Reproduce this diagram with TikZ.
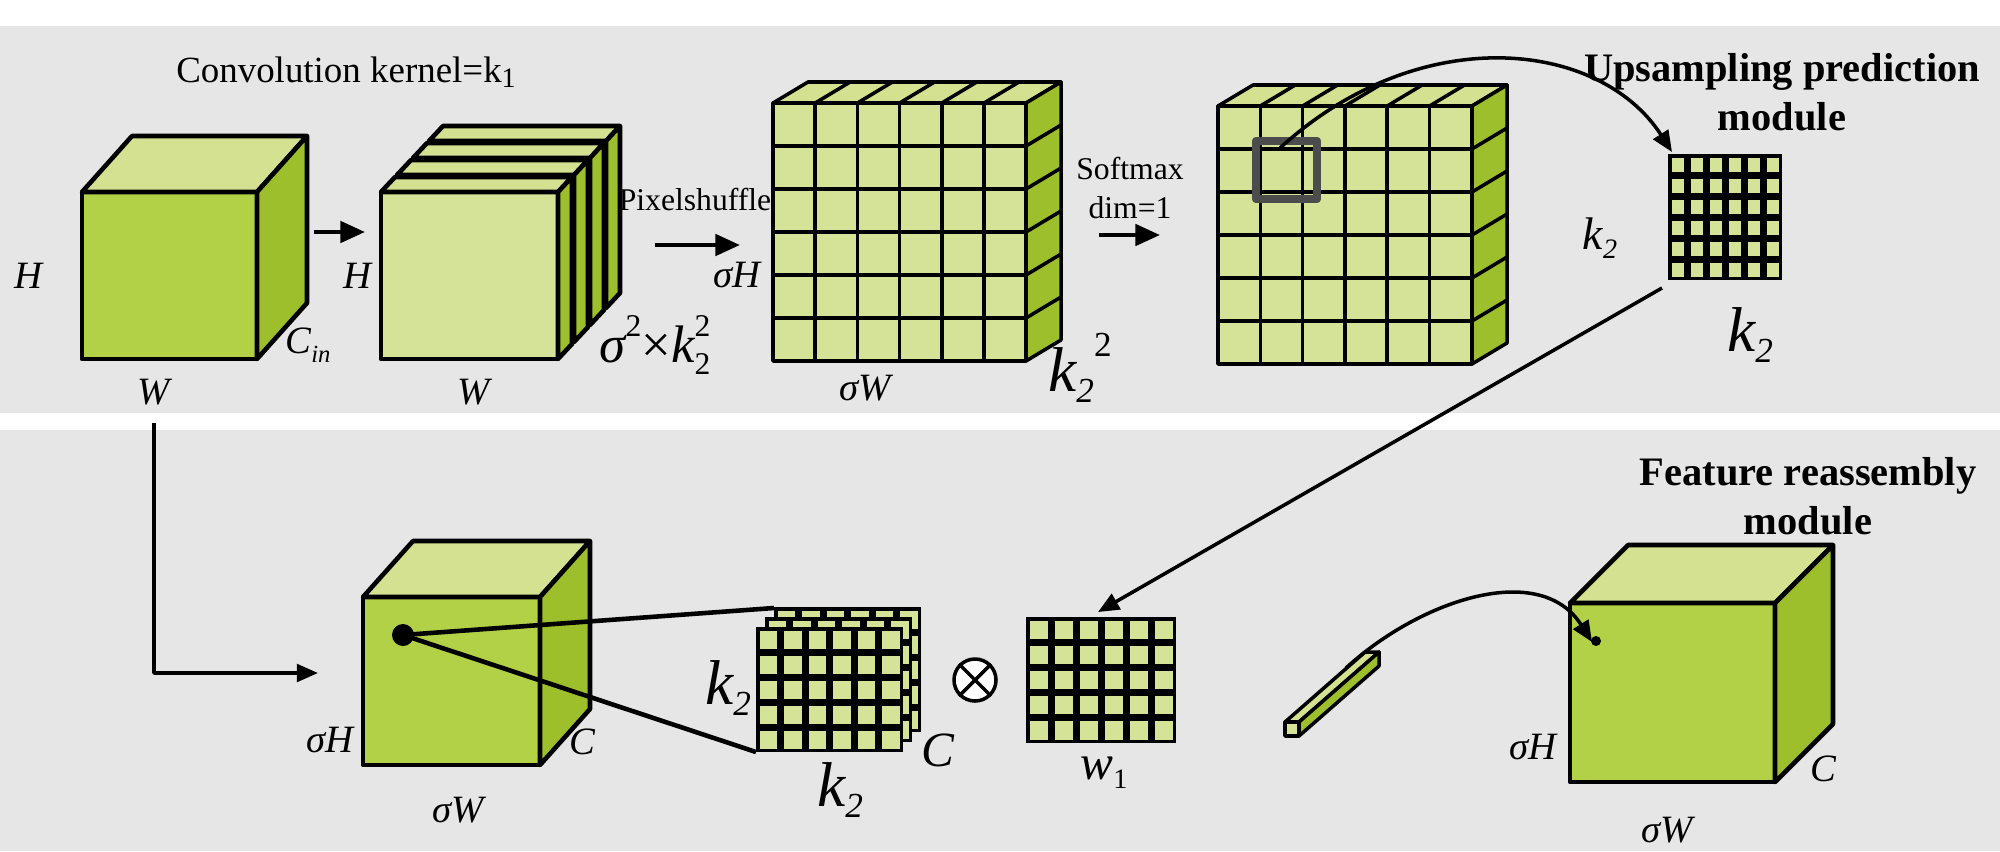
\documentclass[tikz,border=0pt]{standalone}
\usepackage{fontspec}
\setmainfont{Liberation Serif}
\usetikzlibrary{arrows.meta}
\definecolor{bg}{HTML}{E6E6E6}
\definecolor{gfront}{HTML}{B3D147}
\definecolor{glight}{HTML}{D4E397}
\definecolor{gtop}{HTML}{D3E191}
\definecolor{gside}{HTML}{9CBF2B}
\newcommand\mycube[7]{%
  \filldraw[fill=#7] (#1,#2) rectangle ++(#3,#4);
  \filldraw[fill=gtop] (#1,#2) -- ++(#5,#6) -- ++(#3,0) -- ++(-#5,-#6) -- cycle;
  \filldraw[fill=gside] (#1+#3,#2) -- ++(#5,#6) -- ++(0,#4) -- ++(-#5,-#6) -- cycle;}
\newcommand\mygrid[6]{% x y ncols nrows cw ch
  \fill[black] (#1,#2) rectangle ++(#3*#5,#4*#6);
  \foreach \i in {1,...,#3}{\foreach \j in {1,...,#4}{
    \fill[glight] (#1+\i*#5-#5+3.5,#2+\j*#6-#6+3.5) rectangle (#1+\i*#5-3.5,#2+\j*#6-3.5);}}}
\newcommand\subsup[2]{\rlap{\raisebox{1.1ex}{\upshape\fontsize{9}{9}\selectfont #2}}\raisebox{-0.5ex}{\upshape\fontsize{9}{9}\selectfont #1}}
\tikzset{lbl/.style={font=\itshape\fontsize{11}{11}\selectfont,inner sep=0pt},
  arr/.style={-{Triangle[length=7pt,width=6pt]},line width=1.3pt},
  carr/.style={-{Triangle[length=6pt,width=5pt]},line width=1pt},
  bold/.style={font=\bfseries\fontsize{11.5}{14}\selectfont,align=center}}
\begin{document}
\begin{tikzpicture}[x=0.01cm,y=-0.01cm,line join=round]
\useasboundingbox (0,0) rectangle (2000,851);
\fill[white] (0,0) rectangle (2000,851);
\fill[bg] (0,26) rectangle (2000,413);
\fill[bg] (0,430) rectangle (2000,851);
\begin{scope}[line width=1.3pt]
% cube 1
\mycube{82}{192}{175}{167}{50}{-56}{gfront}
% stack
\foreach \k in {3,2,1,0}{\mycube{381+16*\k}{192-17*\k}{177}{167}{14}{-15}{glight}}
% big grid 1
\begin{scope}[line width=1pt]
\mycube{773}{103}{253}{258}{35}{-21}{glight}
\foreach \i in {1,...,5}{\draw (773+\i*42.2,103) -- ++(0,258); \draw (773+\i*42.2,103) -- ++(35,-21);
  \draw (773,103+\i*43) -- ++(253,0); \draw (1026,103+\i*43) -- ++(35,-21);}
% grid 2
\mycube{1218}{106}{254}{258}{35}{-21}{glight}
\foreach \i in {1,...,5}{\draw (1218+\i*42.3,106) -- ++(0,258); \draw (1218+\i*42.3,106) -- ++(35,-21);
  \draw (1218,106+\i*43) -- ++(254,0); \draw (1472,106+\i*43) -- ++(35,-21);}
\end{scope}
\draw[gray!60!black,line width=2.5pt] (1256,141) rectangle (1317,199);
\coordinate (sq) at (1280,148);
% small grid top right
\mygrid{1668}{154}{6}{6}{19}{21}
\coordinate (sg) at (1672,152);
\coordinate (sgb) at (1662,288);
% bottom cube
\mycube{363}{597}{177}{168}{50}{-56}{gfront}
% stacked grids
\foreach \k in {2,1,0}{\mygrid{756+9*\k}{627-10*\k}{6}{5}{24.5}{25}}
% w1 grid
\mygrid{1026}{617}{6}{5}{25}{25.2}
\coordinate (w1) at (1098,612);
% bar
\filldraw[fill=gtop,line width=1pt] (1285,722) -- ++(80,-70) -- ++(14,0) -- ++(-80,70) -- cycle;
\filldraw[fill=glight,line width=1pt] (1285,722) rectangle ++(14,14);
\filldraw[fill=gside,line width=1pt] (1299,722) -- ++(80,-70) -- ++(0,14) -- ++(-80,70) -- cycle;
\coordinate (bar) at (1346,668);
% right cube
\mycube{1570}{603}{205}{179}{58}{-58}{gfront}
\end{scope}
\fill (403,635) circle (11);
\coordinate (dot) at (403,635);
\fill (1596,641) circle (5);
\coordinate (dot2) at (1592,642);
\draw[line width=1.3pt] (dot) -- (774,608);
\draw[line width=1.3pt] (dot) -- (756,752);
% arrows
\draw[arr] (314,232) -- (365,232);
\draw[arr] (655,245) -- (740,245);
\draw[arr] (1099,235) -- (1160,235);
\draw[carr] (sq) .. controls (1420,20) and (1600,40) .. (sg);
\draw[carr] (sgb) -- (w1);
\draw[carr] (154,423) -- (154,673) -- (318,673);
\draw[carr] (bar) .. controls (1420,600) and (1540,560) .. (dot2);
% otimes
\node[draw,circle,fill=white,line width=1pt,minimum size=0.42cm,inner sep=0pt] (ot) at (975,680) {};
\draw[line width=1pt] (ot.north west) -- (ot.south east) (ot.north east) -- (ot.south west);
% texts
\node[font=\fontsize{10.5}{10.5}\selectfont] (t1) at (346,72) {Convolution kernel=k\raisebox{-0.3ex}{\fontsize{8}{8}\selectfont 1}};
\node[lbl] (h1) at (28,276) {H};
\node[lbl] (w1l) at (154,392) {W};
\node[lbl] (cin) at (308,345) {C\raisebox{-0.5ex}{\fontsize{7}{7}\selectfont in}};
\node[lbl] (h2) at (357,276) {H};
\node[lbl] (w2l) at (474,392) {W};
\node[lbl,font=\itshape\fontsize{15}{15}\selectfont] (sk) at (655,345) {σ\raisebox{1.1ex}{\upshape\fontsize{9}{9}\selectfont 2}\upshape×\itshape k\subsup{2}{2}\hspace{0.5em}};
\node[font=\fontsize{9}{9}\selectfont] (ps) at (695,200) {Pixelshuffle};
\node[lbl] (sh1) at (737,275) {σH};
\node[lbl] (sw1) at (865,388) {σW};
\node[lbl,font=\itshape\fontsize{18}{18}\selectfont] (kk) at (1080,368) {k\raisebox{-0.4ex}{\fontsize{10}{10}\selectfont 2}\raisebox{1.2ex}{\upshape\fontsize{10}{10}\selectfont 2}};
\node[font=\fontsize{9}{11}\selectfont,align=center] (sm) at (1130,188) {Softmax\\dim=1};
\node[bold] (up) at (1782,92) {Upsampling prediction\\module};
\node[lbl,font=\itshape\fontsize{13}{13}\selectfont] (k2a) at (1600,238) {k\raisebox{-0.4ex}{\fontsize{8}{8}\selectfont 2}};
\node[lbl,font=\itshape\fontsize{18}{18}\selectfont] (k2b) at (1750,335) {k\raisebox{-0.4ex}{\fontsize{10}{10}\selectfont 2}};
\node[bold] (fr) at (1808,496) {Feature reassembly\\module};
\node[lbl] (sh2) at (330,740) {σH};
\node[lbl] (c2) at (582,742) {C};
\node[lbl] (sw2) at (458,810) {σW};
\node[lbl,font=\itshape\fontsize{18}{18}\selectfont] (k2c) at (728,688) {k\raisebox{-0.4ex}{\fontsize{10}{10}\selectfont 2}};
\node[lbl,font=\itshape\fontsize{14}{14}\selectfont] (c3) at (938,750) {C};
\node[lbl,font=\itshape\fontsize{18}{18}\selectfont] (k2d) at (840,790) {k\raisebox{-0.4ex}{\fontsize{10}{10}\selectfont 2}};
\node[lbl,font=\itshape\fontsize{14}{14}\selectfont] (w1t) at (1104,773) {w\raisebox{-0.4ex}{\upshape\fontsize{8}{8}\selectfont 1}};
\node[lbl] (sh3) at (1533,747) {σH};
\node[lbl] (c4) at (1823,769) {C};
\node[lbl] (sw3) at (1667,830) {σW};
\end{tikzpicture}
\end{document}
